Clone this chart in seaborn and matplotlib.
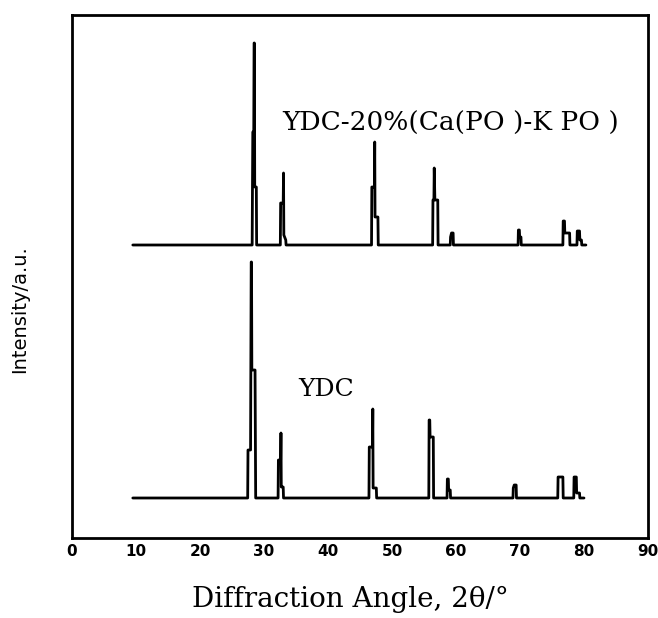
import numpy as np
import pandas as pd
import matplotlib
matplotlib.use("Agg")
import matplotlib.pyplot as plt
import seaborn as sns

# ---- data (intensities in arbitrary units) ----
ydc_angle = [9.5, 27.45, 27.5, 27.9, 28.0, 28.05, 28.1, 28.6, 28.7,
             32.2, 32.25, 32.6, 32.65, 32.7, 33.0, 33.05,
             46.4, 46.45, 46.95, 47.0, 47.05, 47.55, 47.6,
             55.75, 55.8, 55.9, 55.95, 56.45, 56.5,
             58.6, 58.65, 58.8, 58.85, 59.1, 59.15,
             68.9, 68.95, 69.1, 69.4, 69.45,
             75.9, 75.95, 76.7, 76.75,
             78.4, 78.45, 78.8, 78.85, 79.3, 79.35, 80.0]
ydc_int = [0, 0, 48, 48, 236, 236, 128, 128, 0,
           0, 38, 38, 65, 11, 11, 0,
           0, 51, 51, 89, 10, 10, 0,
           0, 78, 78, 61, 61, 0,
           0, 19, 19, 8, 8, 0,
           0, 10, 13, 13, 0,
           0, 21, 21, 0,
           0, 21, 21, 5, 5, 0, 0]

comp_angle = [9.5, 28.15, 28.2, 28.25, 28.4, 28.45, 28.5, 28.55, 28.8, 28.85,
              32.55, 32.6, 33.0, 33.05, 33.1, 33.4, 33.45,
              46.8, 46.85, 47.25, 47.3, 47.35, 47.8, 47.85,
              56.35, 56.4, 56.55, 56.6, 56.7, 57.15, 57.2,
              59.1, 59.15, 59.3, 59.55, 59.6,
              69.7, 69.75, 69.9, 69.95, 70.15, 70.2,
              76.7, 76.75, 76.95, 77.0, 77.75, 77.8,
              78.9, 78.95, 79.3, 79.35, 79.6, 79.65, 80.3]
comp_int = [0, 0, 58, 113, 113, 202, 202, 58, 58, 0,
            0, 42, 42, 72, 10, 5, 0,
            0, 58, 58, 103, 28, 28, 0,
            0, 45, 45, 77, 45, 45, 0,
            0, 8, 12, 12, 0,
            0, 15, 15, 8, 8, 0,
            0, 24, 24, 12, 12, 0,
            0, 14, 14, 5, 5, 0, 0]

samples = ["YDC", "YDC-20%(Ca(PO )-K PO )"]
x_ticks = [0, 10, 20, 30, 40, 50, 60, 70, 80, 90]

# vertical stacking offset of the upper pattern (display only)
offsets = {samples[0]: 0, samples[1]: 253}

frames = []
for name, ang, inten in [(samples[0], ydc_angle, ydc_int),
                         (samples[1], comp_angle, comp_int)]:
    frames.append(pd.DataFrame({
        "angle": ang,
        "intensity": np.asarray(inten, dtype=float) + offsets[name],
        "sample": name,
    }))
df = pd.concat(frames, ignore_index=True)

sns.set_theme(style="white")
plt.rcParams["font.family"] = ["DejaVu Sans"]
plt.rcParams["text.color"] = "black"
plt.rcParams["axes.labelcolor"] = "black"
plt.rcParams["xtick.color"] = "black"
plt.rcParams["ytick.color"] = "black"

fig = plt.figure(figsize=(6.58, 6.18), dpi=100)
ax = fig.add_axes([72 / 658, 1 - 538 / 618, 576 / 658, 523 / 618])

sns.lineplot(data=df, x="angle", y="intensity", hue="sample", units="sample",
             estimator=None, sort=False, palette=["black", "black"],
             legend=False, linewidth=2.0, ax=ax)

ax.set_xlim(0, 90)
ax.set_ylim(-40, 483)
ax.set_xticks(x_ticks)
ax.set_xticklabels([str(t) for t in x_ticks], fontsize=11, fontweight="bold",
                   color="black")
ax.set_yticks([])
ax.tick_params(axis="x", length=0, pad=4)
for s in ax.spines.values():
    s.set_color("black")
    s.set_linewidth(2.0)

ax.set_xlabel("Diffraction Angle, 2θ/°", fontsize=20, family="DejaVu Serif",
              color="black")
ax.xaxis.set_label_coords(0.484, -0.092)
ax.set_ylabel("Intensity/a.u.", fontsize=14, color="black")
ax.yaxis.set_label_coords(-0.075, 0.438)

ax.text(0.365, 0.793, samples[1], transform=ax.transAxes, fontsize=19,
        family="DejaVu Serif", ha="left", va="center", color="black")
ax.text(0.392, 0.283, samples[0], transform=ax.transAxes, fontsize=18,
        family="DejaVu Serif", ha="left", va="center", color="black")

fig.savefig("out.png", dpi=100)
